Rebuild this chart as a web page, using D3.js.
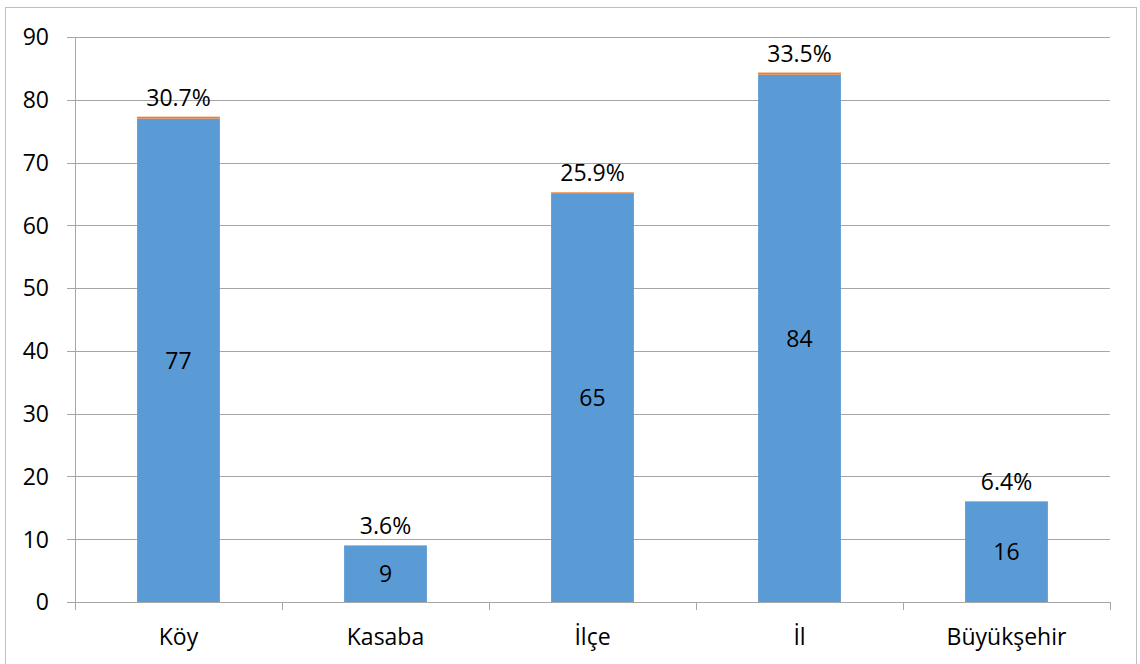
<!DOCTYPE html>
<html>
<head>
<meta charset="utf-8">
<script src="https://cdn.jsdelivr.net/npm/d3@7"></script>
<style>
  body { margin: 0; background: #fff; }
  svg text { font-family: "Open Sans", "Noto Sans", sans-serif; fill: #000; }
</style>
</head>
<body>
<svg id="chart" width="1140" height="664"></svg>
<script>
const categories = ["Köy", "Kasaba", "İlçe", "İl", "Büyükşehir"];
const counts = [77, 9, 65, 84, 16];
const shares = [0.307, 0.036, 0.259, 0.335, 0.064];
const yTicks = [0, 10, 20, 30, 40, 50, 60, 70, 80, 90];

const chart = {
    left: 75,
    right: 1110,
    top: 37,
    bottom: 602,
    font_size: 23,
    svg: d3.select('#chart')
};

// outer frame
chart.svg.append('rect')
    .attr('x', 5.5).attr('y', 7.5)
    .attr('width', 1131).attr('height', 670)
    .attr('fill', 'none')
    .attr('stroke', '#bfbfbf');

const x = d3.scaleBand()
    .domain(categories)
    .range([chart.left, chart.right])
    .paddingInner(0.6)
    .paddingOuter(0.3);

const y = d3.scaleLinear()
    .domain([0, 90])
    .range([chart.bottom, chart.top]);

// grid lines + tick marks on the left
chart.svg.selectAll('.grid')
    .data(yTicks)
    .enter().append('line')
    .attr('x1', chart.left - 8)
    .attr('x2', chart.right)
    .attr('y1', d => Math.round(y(d)) + 0.5)
    .attr('y2', d => Math.round(y(d)) + 0.5)
    .attr('stroke', '#a6a6a6')
    .attr('stroke-width', 1);

chart.svg.selectAll('.ytick')
    .data(yTicks)
    .enter().append('text')
    .attr('x', chart.left - 26)
    .attr('y', d => y(d))
    .attr('dy', '0.36em')
    .attr('text-anchor', 'end')
    .attr('font-size', chart.font_size)
    .text(d => d);

// y axis line
chart.svg.append('line')
    .attr('x1', chart.left + 0.5).attr('x2', chart.left + 0.5)
    .attr('y1', chart.top).attr('y2', chart.bottom + 8)
    .attr('stroke', '#a6a6a6');

// category separators
const step = (chart.right - chart.left) / categories.length;
chart.svg.selectAll('.xtick')
    .data(d3.range(categories.length + 1))
    .enter().append('line')
    .attr('x1', i => Math.round(chart.left + i * step) + 0.5)
    .attr('x2', i => Math.round(chart.left + i * step) + 0.5)
    .attr('y1', chart.bottom)
    .attr('y2', chart.bottom + 8)
    .attr('stroke', '#a6a6a6');

const rows = categories.map((c, i) => ({ cat: c, count: counts[i], share: shares[i] }));

// blue bars (counts)
chart.svg.selectAll('.bar')
    .data(rows)
    .enter().append('rect')
    .attr('x', d => x(d.cat))
    .attr('width', x.bandwidth())
    .attr('y', d => y(d.count))
    .attr('height', d => y(0) - y(d.count))
    .attr('fill', '#5b9bd5');

// orange segment stacked on top (share)
chart.svg.selectAll('.share')
    .data(rows)
    .enter().append('rect')
    .attr('x', d => x(d.cat))
    .attr('width', x.bandwidth())
    .attr('y', d => y(d.count + d.share))
    .attr('height', d => y(d.count) - y(d.count + d.share))
    .attr('fill', '#ed7d31');

// count labels in bar middle
chart.svg.selectAll('.count')
    .data(rows)
    .enter().append('text')
    .attr('x', d => x(d.cat) + x.bandwidth() / 2)
    .attr('y', d => y(d.count / 2))
    .attr('dy', '0.36em')
    .attr('text-anchor', 'middle')
    .attr('font-size', chart.font_size)
    .text(d => d.count);

// share labels above bar
chart.svg.selectAll('.pct')
    .data(rows)
    .enter().append('text')
    .attr('x', d => x(d.cat) + x.bandwidth() / 2)
    .attr('y', d => y(d.count + d.share) - 11)
    .attr('text-anchor', 'middle')
    .attr('font-size', chart.font_size)
    .text(d => d3.format('.1%')(d.share));

// category labels
chart.svg.selectAll('.cat')
    .data(rows)
    .enter().append('text')
    .attr('x', d => x(d.cat) + x.bandwidth() / 2)
    .attr('y', 637)
    .attr('dy', '0.36em')
    .attr('text-anchor', 'middle')
    .attr('font-size', chart.font_size)
    .text(d => d.cat);
</script>
</body>
</html>
